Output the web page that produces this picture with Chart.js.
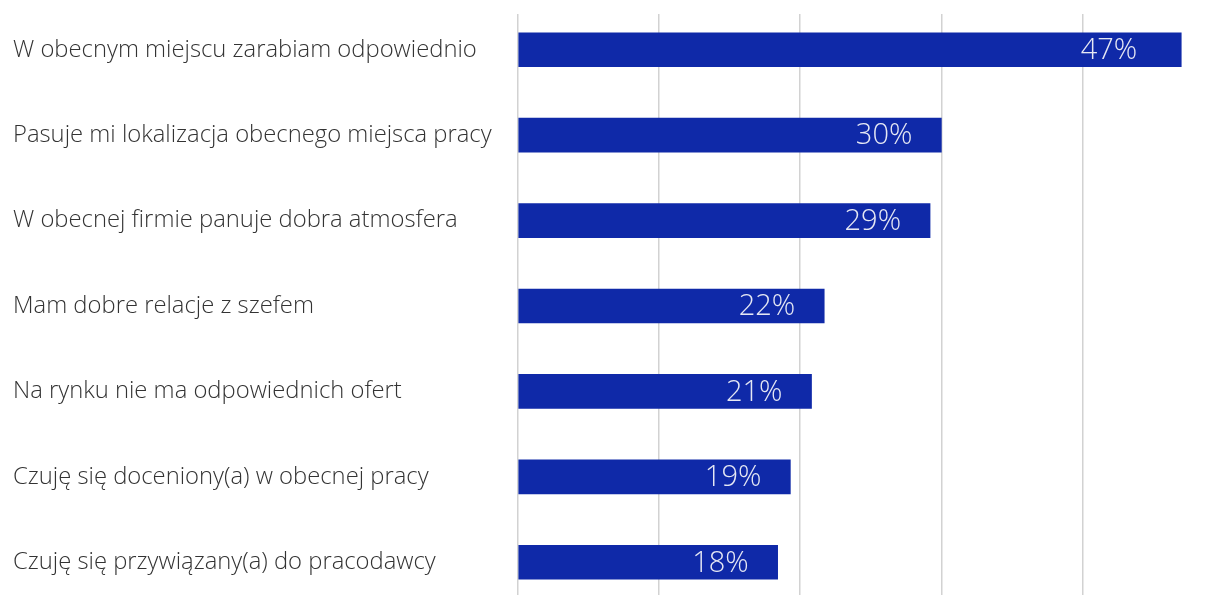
<!DOCTYPE html>
<html>
<head>
<meta charset="utf-8">
<script src="https://cdn.jsdelivr.net/npm/chart.js@4.4.1/dist/chart.umd.min.js"></script>
<style>
html,body{margin:0;padding:0;background:#fff;overflow:hidden;width:1213px;height:595px;}
#wrap{position:relative;width:1213px;height:605px;}
</style>
</head>
<body>
<div id="wrap"><canvas id="c" width="1213" height="605"></canvas></div>
<script>
const categories = [
  "W obecnym miejscu zarabiam odpowiednio",
  "Pasuje mi lokalizacja obecnego miejsca pracy",
  "W obecnej firmie panuje dobra atmosfera",
  "Mam dobre relacje z szefem",
  "Na rynku nie ma odpowiednich ofert",
  "Czuję się doceniony(a) w obecnej pracy",
  "Czuję się przywiązany(a) do pracodawcy"
];
const values = [47.0, 30.0, 29.2, 21.7, 20.8, 19.3, 18.4];
const valueLabels = ["47%", "30%", "29%", "22%", "21%", "19%", "18%"];
const gridTicks = [0, 10, 20, 30, 40];

const barLabels = {
  id: 'barLabels',
  afterDatasetsDraw(chart) {
    const ctx = chart.ctx;
    const meta = chart.getDatasetMeta(0);
    ctx.save();
    ctx.font = '300 29px "Open Sans"';
    ctx.fillStyle = '#e6e8f4';
    ctx.textAlign = 'right';
    ctx.textBaseline = 'middle';
    meta.data.forEach((el, i) => {
      const gap = i === 0 ? 44 : 29;
      ctx.fillText(valueLabels[i], el.x - gap, el.y + 1);
    });
    ctx.restore();
  }
};
const gridMask = {
  id: 'gridMask',
  beforeDatasetsDraw(chart) {
    const ctx = chart.ctx;
    ctx.save();
    ctx.fillStyle = '#ffffff';
    ctx.fillRect(chart.chartArea.left - 3, 0, chart.chartArea.right, 14);
    ctx.restore();
  }
};

new Chart(document.getElementById('c'), {
  type: 'bar',
  data: {
    labels: categories,
    datasets: [{
      data: values,
      backgroundColor: '#0f29a8',
      borderWidth: 0,
      barThickness: 34
    }]
  },
  options: {
    indexAxis: 'y',
    responsive: false,
    animation: false,
    devicePixelRatio: 1,
    layout: { padding: { left: 13, top: 7, right: 0, bottom: 0 } },
    plugins: { legend: { display: false }, tooltip: { enabled: false } },
    scales: {
      x: {
        min: 0,
        max: 49.25,
        ticks: { display: false, stepSize: 10, padding: 0 },
        afterBuildTicks(scale) { scale.ticks = gridTicks.map(v => ({ value: v })); },
        afterFit(scale) { scale.height = 0; scale.paddingLeft = 0; scale.paddingRight = 0; },
        border: { display: false },
        grid: { color: '#d2d2d2', lineWidth: 1.5, drawTicks: false }
      },
      y: {
        afterFit(scale) { scale.width = 505; scale.paddingTop = 0; scale.paddingBottom = 0; },
        border: { display: false },
        grid: { display: false },
        ticks: {
          crossAlign: 'far',
          color: '#333333',
          font: { family: '"Open Sans"', size: 23.8, weight: 300 }
        }
      }
    }
  },
  plugins: [gridMask, barLabels]
});
</script>
</body>
</html>
